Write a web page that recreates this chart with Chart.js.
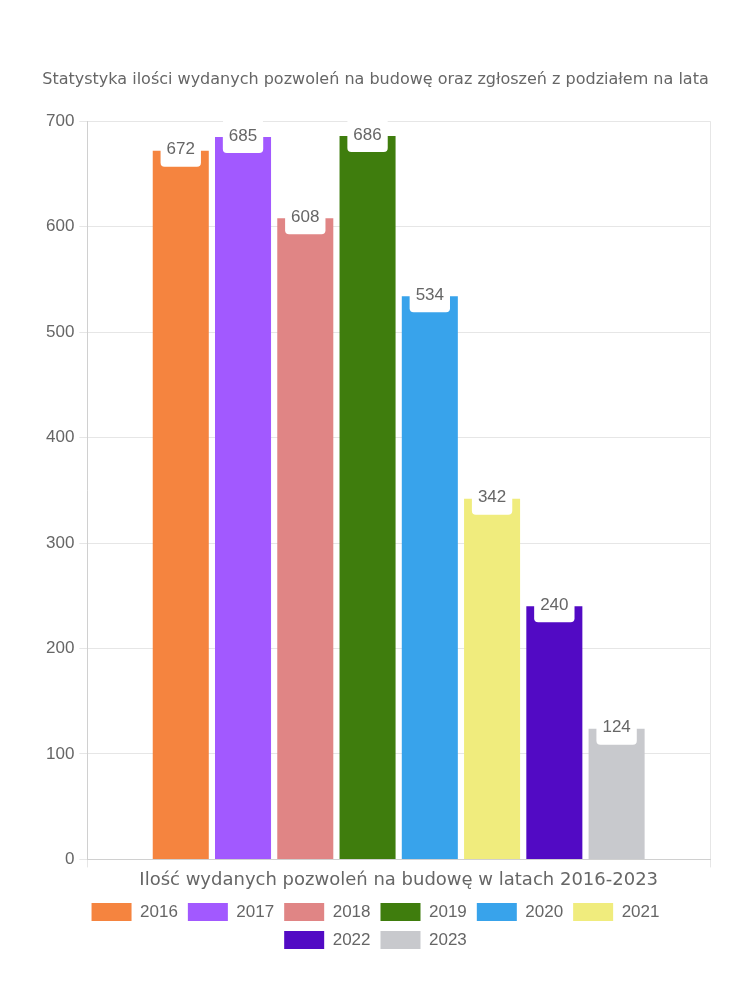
<!DOCTYPE html>
<html>
<head>
<meta charset="utf-8">
<script src="https://cdn.jsdelivr.net/npm/chart.js@4/dist/chart.umd.min.js"></script>
<style>
html,body{margin:0;padding:0;background:#fff;}
#c{display:block;}
</style>
</head>
<body>
<canvas id="c" width="750" height="1000"></canvas>
<script>
const titleText = "Statystyka ilości wydanych pozwoleń na budowę oraz zgłoszeń z podziałem na lata";
const categories = ["Ilość wydanych pozwoleń na budowę w latach 2016-2023"];
const years = ["2016","2017","2018","2019","2020","2021","2022","2023"];
const values = [672, 685, 608, 686, 534, 342, 240, 124];
const colors = ["#F5843F","#A259FF","#E08585","#3F7D0D","#38A3EB","#F0EC7D","#520AC4","#C8C9CD"];
const yTicks = [0,100,200,300,400,500,600,700];

const FONT = "'DejaVu Sans', 'Noto Sans', sans-serif";
const TICKFONT = "'Liberation Sans', Arial, sans-serif";

const labelPlugin = {
  id: 'valueLabels',
  afterDatasetsDraw(chart) {
    const ctx = chart.ctx;
    ctx.save();
    ctx.font = "17px " + TICKFONT;
    ctx.textAlign = 'center';
    ctx.textBaseline = 'middle';
    chart.data.datasets.forEach((ds, i) => {
      const meta = chart.getDatasetMeta(i);
      if (meta.hidden) return;
      meta.data.forEach((bar, j) => {
        const txt = String(ds.data[j]);
        const w = ctx.measureText(txt).width + 12;
        const h = 34;
        const cx = bar.x, cy = bar.y - 1;
        ctx.fillStyle = '#fff';
        ctx.beginPath();
        ctx.roundRect(cx - w/2, cy - h/2, w, h, 4);
        ctx.fill();
        ctx.fillStyle = '#666';
        ctx.fillText(txt, cx, cy);
      });
    });
    ctx.restore();
  }
};

const datasets = years.map((y, i) => ({
  label: y,
  data: [values[i]],
  backgroundColor: colors[i],
  borderWidth: 0
}));

new Chart(document.getElementById('c'), {
  type: 'bar',
  data: { labels: categories, datasets },
  options: {
    responsive: false,
    animation: false,
    devicePixelRatio: 1,
    layout: { padding: { top: 70, left: 41, right: 40, bottom: 41 } },
    plugins: {
      title: {
        display: true, text: titleText, color: '#666',
        font: { family: FONT, size: 16, weight: 'normal' },
        padding: { top: 0, bottom: 32 }
      },
      legend: {
        position: 'bottom',
        labels: {
          color: '#666', boxWidth: 40, boxHeight: 18, padding: 10,
          font: { family: TICKFONT, size: 17 }
        }
      },
      tooltip: { enabled: false }
    },
    scales: {
      x: {
        grid: { color: '#e6e6e6', offset: true, tickLength: 8 },
        border: { color: '#d0d0d0' },
        ticks: { color: '#666', font: { family: FONT, size: 18 }, padding: 2 }
      },
      y: {
        min: 0, max: 700,
        afterBuildTicks(axis) { axis.ticks = yTicks.map(v => ({ value: v })); },
        grid: { color: '#e6e6e6', tickLength: 8 },
        border: { color: '#d0d0d0' },
        ticks: { color: '#666', font: { family: TICKFONT, size: 17 }, padding: 5 }
      }
    }
  },
  plugins: [labelPlugin]
});
</script>
</body>
</html>
